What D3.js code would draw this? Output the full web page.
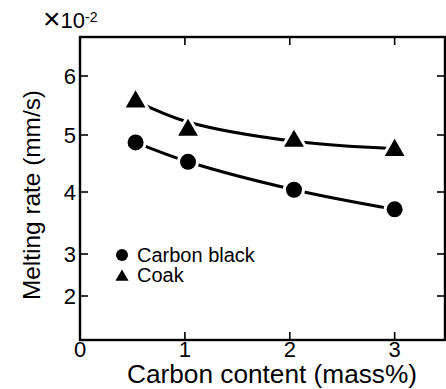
<!DOCTYPE html>
<html>
<head>
<meta charset="utf-8">
<script src="https://cdn.jsdelivr.net/npm/d3@7"></script>
<style>
  html, body { margin: 0; padding: 0; background: #fff; }
  svg { display: block; }
  text { font-family: "Liberation Sans", Arial, Helvetica, sans-serif; fill: #000; }
</style>
</head>
<body>
<svg id="chart" width="446" height="389"></svg>
<script>
// ---- data ----
const carbonBlackX = [0.53, 1.03, 2.04, 3.0];
const carbonBlackY = [4.87, 4.53, 4.04, 3.72];
const coakX = [0.53, 1.03, 2.04, 3.0];
const coakY = [5.58, 5.10, 4.91, 4.75];
// smooth trend curves as drawn in the figure
const carbonBlackCurveY = [4.87, 4.53, 4.04, 3.72];
const coakCurveY = [5.58, 5.22, 4.89, 4.76];
const xTicks = [0, 1, 2, 3];
const yTicks = [2, 3, 4, 5, 6];
const legendLabels = ["Carbon black", "Coak"];

(function () {
// ---- layout ----
const svg = d3.select("#chart");
const pLeft = 80, pRight = 445, pTop = 37, pBottom = 340;

const x = d3.scaleLinear().domain([0, 3.48]).range([pLeft, pRight]);
// tick positions on the scanned axis are slightly uneven
const y = d3.scaleLinear().domain([0.95, 2, 3, 4, 5, 6, 6.64])
  .range([pBottom, 296, 254, 192, 135, 76, pTop]);

// frame
svg.append("rect")
  .attr("x", pLeft).attr("y", pTop)
  .attr("width", pRight - pLeft).attr("height", pBottom - pTop)
  .attr("fill", "none").attr("stroke", "#000").attr("stroke-width", 2.4);

// ticks (inward) on all four sides
const tl = 8;
const tickG = svg.append("g").attr("stroke", "#000").attr("stroke-width", 1.6);
xTicks.filter(d => d > 0).forEach(d => {
  tickG.append("line").attr("x1", x(d)).attr("x2", x(d)).attr("y1", pBottom).attr("y2", pBottom - tl);
  tickG.append("line").attr("x1", x(d)).attr("x2", x(d)).attr("y1", pTop).attr("y2", pTop + tl);
});
yTicks.forEach(d => {
  tickG.append("line").attr("x1", pLeft).attr("x2", pLeft + tl).attr("y1", y(d)).attr("y2", y(d));
  tickG.append("line").attr("x1", pRight).attr("x2", pRight - tl).attr("y1", y(d)).attr("y2", y(d));
});

// tick labels
svg.append("g").selectAll("text").data(xTicks).join("text")
  .attr("x", d => x(d)).attr("y", 357)
  .attr("text-anchor", "middle").attr("font-size", 22)
  .text(d => d);
svg.append("g").selectAll("text").data(yTicks).join("text")
  .attr("x", 76).attr("y", d => y(d) + 8)
  .attr("text-anchor", "end").attr("font-size", 22)
  .text(d => d);

// exponent (single text element)
const ex = svg.append("text").attr("x", 43).attr("y", 28).attr("font-size", 22);
ex.append("tspan").attr("font-size", 30).attr("dy", 1).text("×");
ex.append("tspan").attr("dy", -1).text("10");
ex.append("tspan").attr("font-size", 14).attr("dy", -6).text("-2");

// axis titles
svg.append("text")
  .attr("x", (127 + 417) / 2).attr("y", 383)
  .attr("text-anchor", "middle").attr("font-size", 25)
  .attr("textLength", 290).attr("lengthAdjust", "spacingAndGlyphs")
  .text("Carbon content (mass%)");
svg.append("text")
  .attr("transform", "translate(40,195) rotate(-90)")
  .attr("text-anchor", "middle").attr("font-size", 24)
  .attr("textLength", 210).attr("lengthAdjust", "spacingAndGlyphs")
  .text("Melting rate (mm/s)");

// curves
const line = d3.line().x(d => x(d[0])).y(d => y(d[1])).curve(d3.curveCatmullRom.alpha(0.5));
const cbCurve = carbonBlackX.map((v, i) => [v, carbonBlackCurveY[i]]);
const ckCurve = coakX.map((v, i) => [v, coakCurveY[i]]);
[cbCurve, ckCurve].forEach(s => {
  svg.append("path").datum(s).attr("d", line)
    .attr("fill", "none").attr("stroke", "#000").attr("stroke-width", 3);
});

const cb = carbonBlackX.map((v, i) => [v, carbonBlackY[i]]);
const ck = coakX.map((v, i) => [v, coakY[i]]);

// markers (white halo creates the gaps in the line)
const tri = d3.symbol().type(d3.symbolTriangle).size(170);
svg.append("g").selectAll("path").data(ck).join("path")
  .attr("d", tri)
  .attr("transform", d => `translate(${x(d[0])},${y(d[1]) + 1})`)
  .attr("fill", "#000").attr("stroke", "#fff").attr("stroke-width", 6)
  .attr("paint-order", "stroke");
svg.append("g").selectAll("circle").data(cb).join("circle")
  .attr("cx", d => x(d[0])).attr("cy", d => y(d[1])).attr("r", 8)
  .attr("fill", "#000").attr("stroke", "#fff").attr("stroke-width", 6)
  .attr("paint-order", "stroke");

// legend
const lg = svg.append("g");
lg.append("circle").attr("cx", 122).attr("cy", 255).attr("r", 6).attr("fill", "#000");
lg.append("path").attr("d", d3.symbol().type(d3.symbolTriangle).size(75))
  .attr("transform", "translate(122,277)").attr("fill", "#000");
lg.selectAll("text").data(legendLabels).join("text")
  .attr("x", 137).attr("y", (d, i) => 262 + i * 20)
  .attr("font-size", 20)
  .text(d => d);
})();
</script>
</body>
</html>
